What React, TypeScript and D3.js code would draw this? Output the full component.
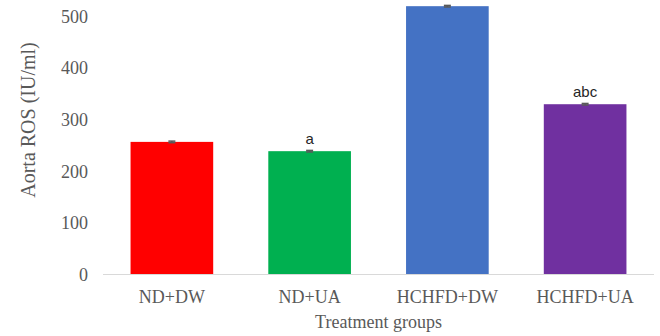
import React from 'react';
import { scaleBand, scaleLinear } from 'd3';

const GROUPS = ['ND+DW', 'ND+UA', 'HCHFD+DW', 'HCHFD+UA'];
const VALUES = [257, 239, 520, 330];
const ERRORS = [1.5, 1.5, 1.5, 1.5];
const SIG_LABELS = ['', 'a', 'ab', 'abc'];
const COLORS = ['#FF0000', '#00B050', '#4472C4', '#7030A0'];
const Y_TICKS = [0, 100, 200, 300, 400, 500];

const W = 660;
const H = 336;

export default function App() {
  const x = scaleBand<string>()
    .domain(GROUPS)
    .range([103, 654])
    .paddingInner(0.4)
    .paddingOuter(0.2);
  const y = scaleLinear().domain([0, 500]).range([274.5, 16.5]);

  const serif = '"Liberation Serif", "Times New Roman", serif';
  const sans = '"Liberation Sans", Arial, sans-serif';
  const grey = '#595959';

  return (
    <div style={{ position: 'absolute', left: 0, top: 0 }}>
      <svg width={W} height={H} style={{ display: 'block', background: '#fff' }}>
        {/* y tick labels */}
        {Y_TICKS.map(t => (
          <text key={t} x={88} y={y(t)} dy="0.35em" textAnchor="end"
            fontFamily={serif} fontSize={18} fill={grey}>{t}</text>
        ))}

        {/* bars */}
        {GROUPS.map((g, i) => (
          <rect key={g} x={x(g)} y={y(VALUES[i])} width={x.bandwidth()}
            height={y(0) - y(VALUES[i])} fill={COLORS[i]} />
        ))}

        {/* error bars */}
        {GROUPS.map((g, i) => {
          const cx = (x(g) as number) + x.bandwidth() / 2;
          return (
            <g key={g + '_err'} stroke="#595959" strokeWidth={1.5}>
              <line x1={cx} x2={cx} y1={y(VALUES[i] - ERRORS[i])} y2={y(VALUES[i] + ERRORS[i])} />
              <line x1={cx - 3.5} x2={cx + 3.5} y1={y(VALUES[i] + ERRORS[i])} y2={y(VALUES[i] + ERRORS[i])} />
              <line x1={cx - 3.5} x2={cx + 3.5} y1={y(VALUES[i] - ERRORS[i])} y2={y(VALUES[i] - ERRORS[i])} />
            </g>
          );
        })}

        {/* significance letters */}
        {GROUPS.map((g, i) => (
          <text key={g + '_sig'} x={(x(g) as number) + x.bandwidth() / 2}
            y={y(VALUES[i] + ERRORS[i]) - 6} textAnchor="middle"
            fontFamily={sans} fontSize={15} fill="#262626">{SIG_LABELS[i]}</text>
        ))}

        {/* x axis line */}
        <line x1={103} x2={654} y1={y(0)} y2={y(0)} stroke="#D9D9D9" strokeWidth={1} />

        {/* category labels */}
        {GROUPS.map(g => (
          <text key={g + '_lab'} x={(x(g) as number) + x.bandwidth() / 2} y={303}
            textAnchor="middle" fontFamily={serif} fontSize={18} fill={grey}>{g}</text>
        ))}

        {/* axis titles */}
        <text x={378.5} y={328} textAnchor="middle" fontFamily={serif} fontSize={18} fill={grey}>
          Treatment groups
        </text>
        <text transform="translate(35,120) rotate(-90)" textAnchor="middle"
          fontFamily={serif} fontSize={20} fill={grey}>
          Aorta ROS (IU/ml)
        </text>
      </svg>
    </div>
  );
}
